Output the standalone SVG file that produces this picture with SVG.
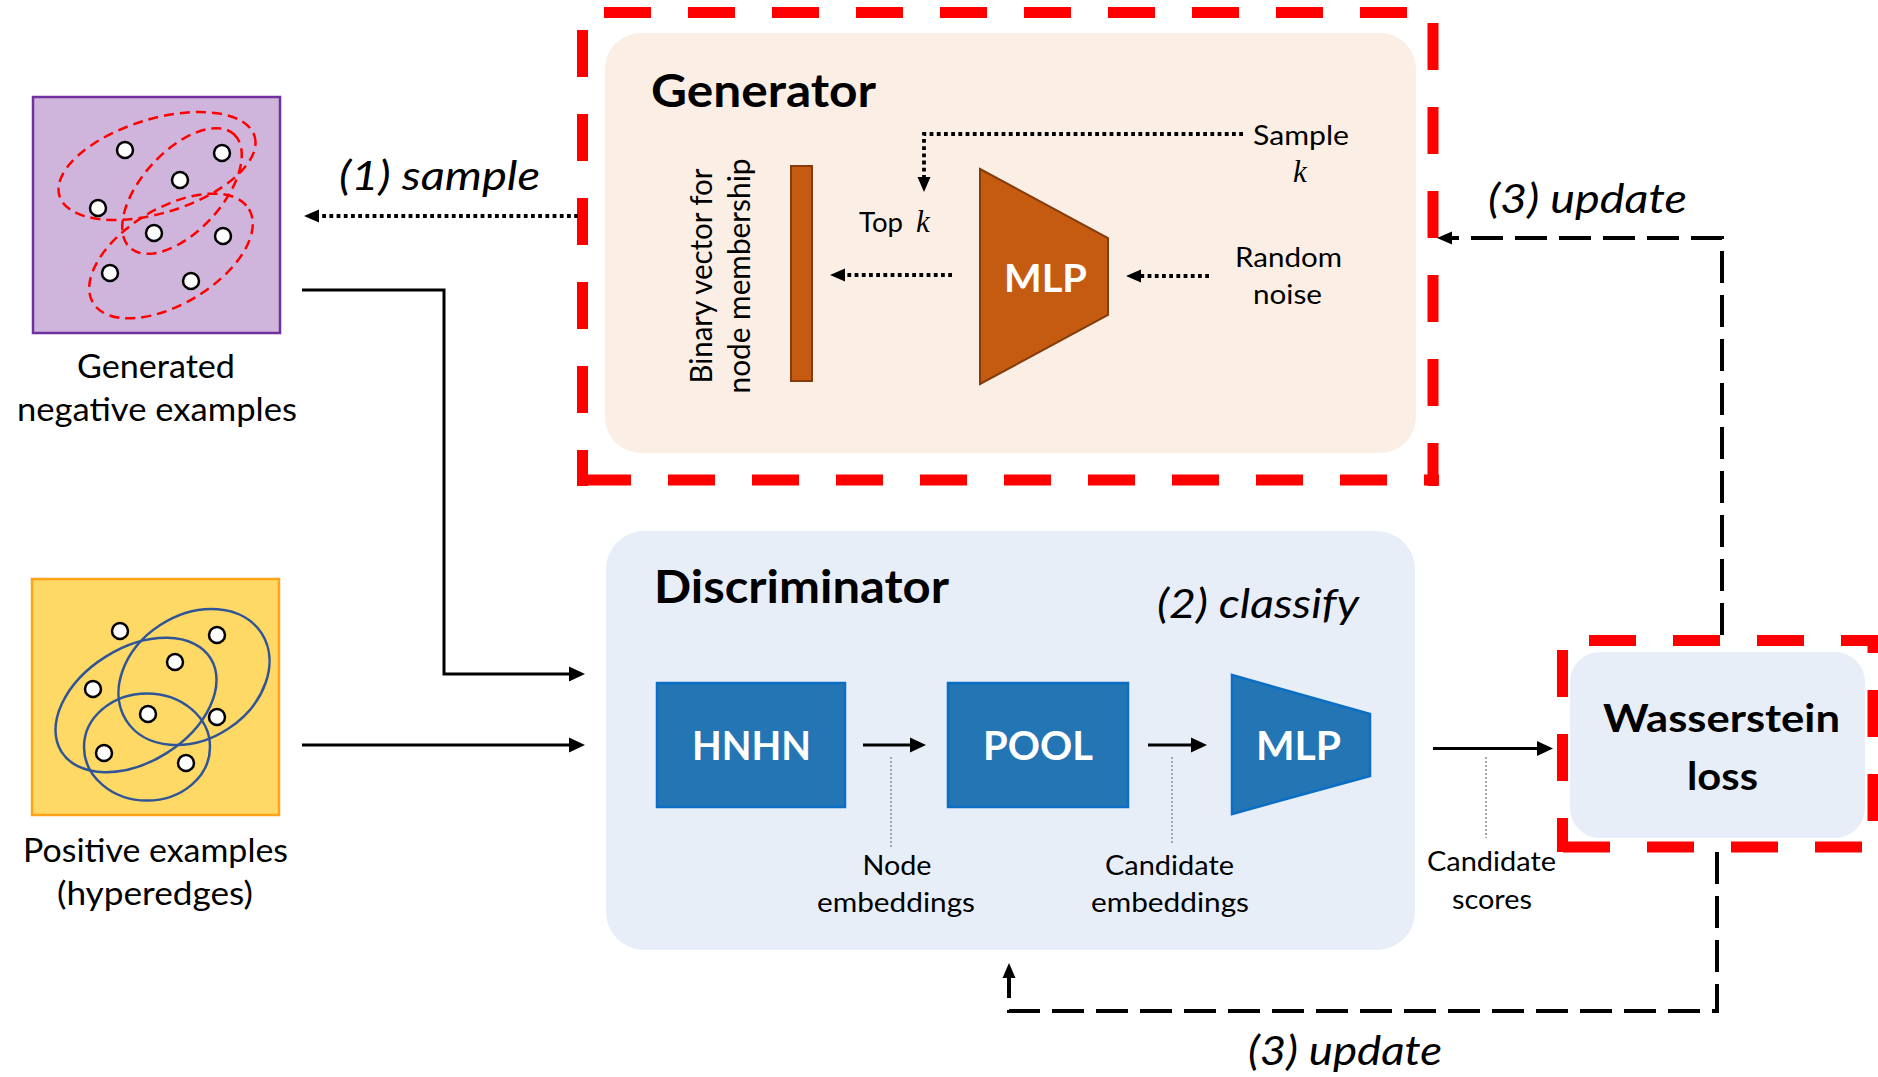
<svg xmlns="http://www.w3.org/2000/svg" width="1878" height="1077" viewBox="0 0 1878 1077">
<style>
  text { font-family: Lato, 'Open Sans', 'Liberation Sans', sans-serif; fill: #000; }
  .it { font-style: italic; }
  .b { font-weight: bold; }
  .wh { fill: #fff; font-weight: bold; }
  .mk { font-family: 'Liberation Serif', 'DejaVu Serif', serif; font-style: italic; }
  .node-c { fill: #fff; stroke: #000; stroke-width: 2.5; }
  .redell { fill: none; stroke: #ff0000; stroke-width: 2.5; stroke-dasharray: 10 6; }
  .blueell { fill: none; stroke: #2f5597; stroke-width: 2.5; }
  .reddash { fill: none; stroke: #ff0000; stroke-width: 11; stroke-dasharray: 47 37; }
  .solid { fill: none; stroke: #000; stroke-width: 3; }
  .dot { fill: none; stroke: #000; stroke-width: 3.8; stroke-dasharray: 3.8 3.4; }
  .dash { fill: none; stroke: #000; stroke-width: 4; stroke-dasharray: 32 12; }
  .gray { fill: none; stroke: #a6a6a6; stroke-width: 2; stroke-dasharray: 2 2; }
  .orange { fill: #c55a11; stroke: #843c0c; stroke-width: 2; }
  .blue { fill: #2375b4; stroke: #0a6fc4; stroke-width: 2.5; }
</style>
<defs>
  <marker id="ahS" markerUnits="userSpaceOnUse" markerWidth="16" markerHeight="16" refX="10" refY="8" orient="auto">
    <path d="M0,0.5 L16,8 L0,15.5 Z" fill="#000"/>
  </marker>
  <marker id="ahD" markerUnits="userSpaceOnUse" markerWidth="15" markerHeight="14" refX="9" refY="7" orient="auto">
    <path d="M0,0.5 L15,7 L0,13.5 Z" fill="#000"/>
  </marker>
</defs>

<g id="negatives">
  <rect x="33" y="97" width="247" height="236" fill="#cfb5db" stroke="#7030a0" stroke-width="2.5"/>
  <ellipse class="redell" cx="157" cy="166" rx="102" ry="47" transform="rotate(-17 157 166)"/>
  <ellipse class="redell" cx="182" cy="191" rx="77" ry="40" transform="rotate(-47.5 182 191)"/>
  <ellipse class="redell" cx="171" cy="256" rx="91" ry="48" transform="rotate(-31 171 256)"/>
  <circle class="node-c" cx="125" cy="150" r="8"/>
  <circle class="node-c" cx="222" cy="153" r="8"/>
  <circle class="node-c" cx="180" cy="180" r="8"/>
  <circle class="node-c" cx="98" cy="208" r="8"/>
  <circle class="node-c" cx="154" cy="233" r="8"/>
  <circle class="node-c" cx="223" cy="236" r="8"/>
  <circle class="node-c" cx="110" cy="273" r="8"/>
  <circle class="node-c" cx="191" cy="281" r="8"/>
  <text x="156" y="378" font-size="32" text-anchor="middle" textLength="158" lengthAdjust="spacingAndGlyphs">Generated</text>
  <text x="157" y="421" font-size="32" text-anchor="middle" textLength="280" lengthAdjust="spacingAndGlyphs">negative examples</text>
</g>

<g id="positives">
  <rect x="32" y="579" width="247" height="236" fill="#ffd966" stroke="#ffa319" stroke-width="2.5"/>
  <ellipse class="blueell" cx="136" cy="705" rx="88" ry="57" transform="rotate(-32 136 705)"/>
  <ellipse class="blueell" cx="194" cy="677" rx="80.5" ry="62" transform="rotate(-33 194 677)"/>
  <ellipse class="blueell" cx="147" cy="747" rx="63" ry="53.5"/>
  <circle class="node-c" cx="120" cy="631" r="8"/>
  <circle class="node-c" cx="217" cy="635" r="8"/>
  <circle class="node-c" cx="175" cy="662" r="8"/>
  <circle class="node-c" cx="93" cy="689" r="8"/>
  <circle class="node-c" cx="148" cy="714" r="8"/>
  <circle class="node-c" cx="217" cy="717" r="8"/>
  <circle class="node-c" cx="104" cy="753" r="8"/>
  <circle class="node-c" cx="186" cy="763" r="8"/>
  <text x="155.5" y="862" font-size="32" text-anchor="middle" textLength="265" lengthAdjust="spacingAndGlyphs">Positive examples</text>
  <text x="155" y="905" font-size="32" text-anchor="middle" textLength="196" lengthAdjust="spacingAndGlyphs">(hyperedges)</text>
</g>

<g id="generator">
  <rect x="605" y="33" width="811" height="420" rx="36" fill="#fbeee4"/>
  <g id="generator-border">
    <line class="reddash" x1="577" y1="12.5" x2="1439" y2="12.5" stroke-dashoffset="57"/>
    <line class="reddash" x1="1433" y1="7" x2="1433" y2="486" stroke-dashoffset="68"/>
    <line class="reddash" x1="1439" y1="480" x2="577" y2="480" stroke-dashoffset="32"/>
    <line class="reddash" x1="582.5" y1="486" x2="582.5" y2="7" stroke-dashoffset="11"/>
  </g>
  <text x="651" y="107" font-size="45" class="b" textLength="225" lengthAdjust="spacingAndGlyphs">Generator</text>
  <text transform="translate(712 276) rotate(-90)" font-size="30" text-anchor="middle" textLength="215" lengthAdjust="spacingAndGlyphs">Binary vector for</text>
  <text transform="translate(750 276) rotate(-90)" font-size="30" text-anchor="middle" textLength="235" lengthAdjust="spacingAndGlyphs">node membership</text>
  <g id="gen-vector"><rect class="orange" x="791" y="166" width="21" height="215"/></g>
  <g id="gen-mlp">
    <polygon class="orange" points="980,169 1108,238 1108,315 980,384"/>
    <text x="1045.5" y="292" font-size="39" class="wh" text-anchor="middle" textLength="83" lengthAdjust="spacingAndGlyphs">MLP</text>
  </g>
  <text x="1253" y="145" font-size="27" textLength="96" lengthAdjust="spacingAndGlyphs">Sample</text>
  <text x="1293" y="182" font-size="31" class="mk">k</text>
  <text x="859" y="232" font-size="27" textLength="44" lengthAdjust="spacingAndGlyphs">Top</text>
  <text x="916" y="232" font-size="31" class="mk">k</text>
  <text x="1288.5" y="267" font-size="27" text-anchor="middle" textLength="107" lengthAdjust="spacingAndGlyphs">Random</text>
  <text x="1287.5" y="304" font-size="27" text-anchor="middle" textLength="69" lengthAdjust="spacingAndGlyphs">noise</text>
</g>

<g id="discriminator">
  <rect x="606" y="531" width="809" height="419" rx="38" fill="#e8eef8"/>
  <text x="654" y="603" font-size="45" class="b" textLength="295" lengthAdjust="spacingAndGlyphs">Discriminator</text>
  <text x="1157" y="618" font-size="40" class="it" textLength="202" lengthAdjust="spacingAndGlyphs">(2) classify</text>
  <g id="hnhn">
    <rect class="blue" x="657" y="683" width="188" height="124"/>
    <text x="751.5" y="760" font-size="40" class="wh" text-anchor="middle" textLength="119" lengthAdjust="spacingAndGlyphs">HNHN</text>
  </g>
  <g id="pool">
    <rect class="blue" x="948" y="683" width="180" height="124"/>
    <text x="1038" y="760" font-size="40" class="wh" text-anchor="middle" textLength="110" lengthAdjust="spacingAndGlyphs">POOL</text>
  </g>
  <g id="disc-mlp">
    <polygon class="blue" points="1232,675 1370,714 1370,776 1232,814"/>
    <text x="1298.5" y="760" font-size="40" class="wh" text-anchor="middle" textLength="85" lengthAdjust="spacingAndGlyphs">MLP</text>
  </g>
  <text x="897" y="875" font-size="26" text-anchor="middle" textLength="69" lengthAdjust="spacingAndGlyphs">Node</text>
  <text x="896" y="912" font-size="26" text-anchor="middle" textLength="158" lengthAdjust="spacingAndGlyphs">embeddings</text>
  <text x="1169.5" y="875" font-size="26" text-anchor="middle" textLength="129" lengthAdjust="spacingAndGlyphs">Candidate</text>
  <text x="1170" y="912" font-size="26" text-anchor="middle" textLength="158" lengthAdjust="spacingAndGlyphs">embeddings</text>
</g>

<g id="wasserstein">
  <rect x="1570" y="652" width="295" height="186" rx="30" fill="#e8eef8"/>
  <g id="wasserstein-border">
    <line class="reddash" x1="1557" y1="640.5" x2="1878" y2="640.5" stroke-dashoffset="52"/>
    <line class="reddash" x1="1873" y1="635" x2="1873" y2="852" stroke-dashoffset="29"/>
    <line class="reddash" x1="1878" y1="847" x2="1557" y2="847" stroke-dashoffset="68"/>
    <line class="reddash" x1="1562.5" y1="852" x2="1562.5" y2="635" stroke-dashoffset="13"/>
  </g>
  <text x="1721.5" y="732" font-size="39" class="b" text-anchor="middle" textLength="237" lengthAdjust="spacingAndGlyphs">Wasserstein</text>
  <text x="1722.5" y="790" font-size="39" class="b" text-anchor="middle" textLength="71" lengthAdjust="spacingAndGlyphs">loss</text>
</g>

<g id="connectors">
  <path class="dot" d="M578,216 H310" marker-end="url(#ahD)"/>
  <path class="solid" d="M302,290 H444 V674 H579" marker-end="url(#ahS)"/>
  <path class="solid" d="M302,745 H579" marker-end="url(#ahS)"/>
  <path class="dot" d="M1243,134 H924 V186" marker-end="url(#ahD)"/>
  <path class="dot" d="M952,275 H836" marker-end="url(#ahD)"/>
  <path class="dot" d="M1209,276 H1132" marker-end="url(#ahD)"/>
  <path class="solid" d="M863,745 H920" marker-end="url(#ahS)"/>
  <path class="solid" d="M1148,745 H1201" marker-end="url(#ahS)"/>
  <path class="solid" d="M1433,748.5 H1547" marker-end="url(#ahS)"/>
  <path class="dash" d="M1722,635 V238 H1443" marker-end="url(#ahD)"/>
  <path class="dash" d="M1717,852 V1011 H1009 V969" marker-end="url(#ahD)"/>
  <path class="gray" d="M891,757 V848"/>
  <path class="gray" d="M1172,757 V845"/>
  <path class="gray" d="M1486,757 V838"/>
  <text x="339" y="190" font-size="40" class="it" textLength="201" lengthAdjust="spacingAndGlyphs">(1) sample</text>
  <text x="1488" y="213" font-size="40" class="it" textLength="199" lengthAdjust="spacingAndGlyphs">(3) update</text>
  <text x="1248" y="1065" font-size="40" class="it" textLength="194" lengthAdjust="spacingAndGlyphs">(3) update</text>
  <text x="1491.5" y="871" font-size="27" text-anchor="middle" textLength="129" lengthAdjust="spacingAndGlyphs">Candidate</text>
  <text x="1492" y="909" font-size="27" text-anchor="middle" textLength="80" lengthAdjust="spacingAndGlyphs">scores</text>
</g>
</svg>
